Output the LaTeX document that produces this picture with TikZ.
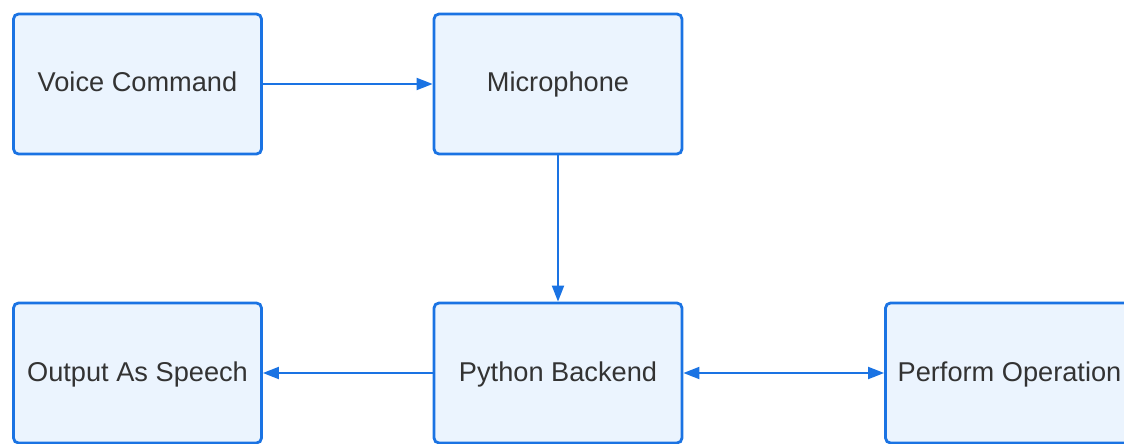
\documentclass[tikz,border=0pt]{standalone}
\usepackage{fontspec}
\setmainfont{Liberation Sans}
\usetikzlibrary{arrows.meta}
\definecolor{boxblue}{HTML}{1A73E3}
\definecolor{boxfill}{HTML}{EBF4FE}
\definecolor{txt}{HTML}{333333}
\tikzset{
  block/.style={draw=boxblue, fill=boxfill, line width=2.8pt, rounded corners=5pt,
    minimum width=248pt, minimum height=140pt, inner sep=0pt, text=txt,
    text height=22pt, text depth=6pt,
    font=\fontsize{27.2}{31}\selectfont},
  tip/.style={Triangle[length=16pt,width=12pt]},
  conn/.style={draw=boxblue, line width=2pt, -{Triangle[length=16pt,width=12pt]}},
  conn2/.style={draw=boxblue, line width=2pt, {Triangle[length=16pt,width=12pt]}-{Triangle[length=16pt,width=12pt]}}
}
\begin{document}
\begin{tikzpicture}[x=1pt,y=-1pt]
\useasboundingbox (0,0) rectangle (1124,444);
\clip (0,0) rectangle (1124,444);
\node[block] (vc) at (137.5,84) {Voice Command};
\node[block] (mic) at (558,84) {Microphone};
\node[block] (out) at (137.5,373) {Output As Speech};
\node[block] (py) at (558,373) {Python Backend};
\node[block] (perf) at (1009.5,373) {Perform Operation};
\draw[conn] (vc.east) -- (mic.west);
\draw[conn] (mic.south) -- (py.north);
\draw[conn] (py.west) -- (out.east);
\draw[conn2] (py.east) -- (perf.west);
\end{tikzpicture}
\end{document}
